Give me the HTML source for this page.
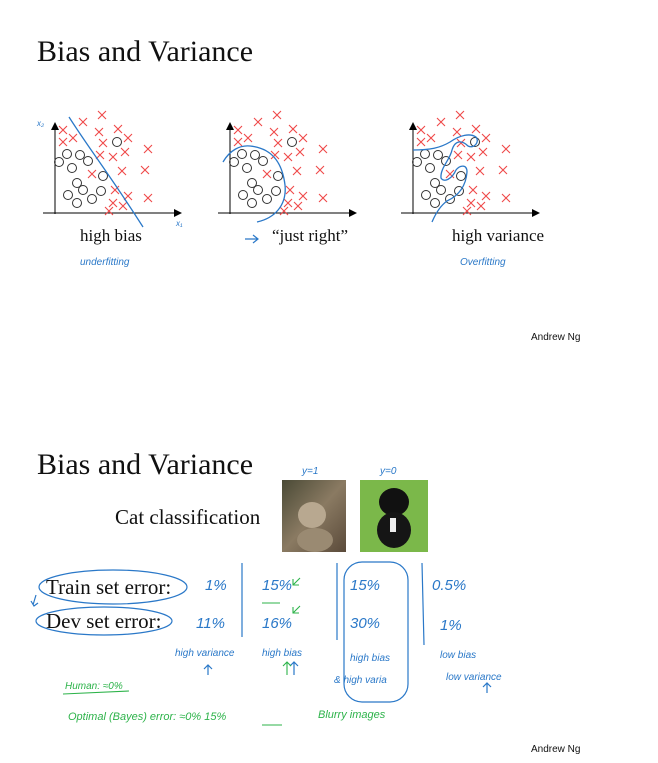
<!DOCTYPE html>
<html><head><meta charset="utf-8">
<style>
html,body{margin:0;padding:0;background:#fff;}
svg{display:block;}
.serif{font-family:"Liberation Serif",serif;fill:#111;}
.hand{font-family:"Liberation Sans",sans-serif;font-style:italic;fill:#2a78c8;}
.handg{font-family:"Liberation Sans",sans-serif;font-style:italic;fill:#2db34a;}
</style></head>
<body>
<svg id="slide" width="658" height="763" viewBox="0 0 658 763" xmlns="http://www.w3.org/2000/svg">
<defs>
<marker id="ar" markerWidth="8" markerHeight="8" refX="6" refY="4" orient="auto"><path d="M0,0 L8,4 L0,8 z" fill="#000"/></marker>
<linearGradient id="catg" x1="0" y1="0" x2="1" y2="1"><stop offset="0" stop-color="#4a4a36"/><stop offset="0.5" stop-color="#8a7a62"/><stop offset="1" stop-color="#5a4a3a"/></linearGradient>
</defs>
<text class="serif" x="37" y="61" font-size="30">Bias and Variance</text>
<g id="panels"></g>
<text class="serif" x="80" y="241" font-size="17">high bias</text>
<text class="serif" x="272" y="241" font-size="17">“just right”</text>
<text class="serif" x="452" y="241" font-size="17">high variance</text>
<path d="M245,239 L258,239 M253,235 L258,239 L253,243" stroke="#2a78c8" fill="none" stroke-width="1.2"/>
<text class="hand" x="80" y="265" font-size="10">underfitting</text>
<text class="hand" x="460" y="265" font-size="10">Overfitting</text>
<text class="hand" x="37" y="126" font-size="8">x₂</text>
<text class="hand" x="176" y="226" font-size="8">x₁</text>
<text x="531" y="340" font-size="10" font-family="Liberation Sans,sans-serif" fill="#111">Andrew Ng</text>

<text class="serif" x="37" y="474" font-size="30">Bias and Variance</text>
<text class="serif" x="115" y="524" font-size="21">Cat classification</text>
<text class="hand" x="302" y="474" font-size="10">y=1</text>
<text class="hand" x="380" y="474" font-size="10">y=0</text>
<g>
<rect x="282" y="480" width="64" height="72" fill="url(#catg)"/>
<ellipse cx="312" cy="515" rx="14" ry="13" fill="#b8a890"/>
<ellipse cx="315" cy="540" rx="18" ry="12" fill="#9a8a72"/>
</g>
<g>
<rect x="360" y="480" width="68" height="72" fill="#7bb84a"/>
<ellipse cx="394" cy="502" rx="15" ry="14" fill="#111"/>
<ellipse cx="394" cy="530" rx="17" ry="18" fill="#151515"/>
<rect x="390" y="518" width="6" height="14" fill="#eee"/>
</g>
<text class="serif" x="46" y="594" font-size="21">Train set error:</text>
<text class="serif" x="46" y="628" font-size="21">Dev set error:</text>
<g fill="none" stroke="#2a78c8" stroke-width="1.2">
<ellipse cx="113" cy="587" rx="74" ry="17"/>
<ellipse cx="104" cy="621" rx="68" ry="14"/>
<path d="M242,563 L242,637 M337,563 L337,640 M422,563 L424,645"/>
<rect x="344" y="562" width="64" height="140" rx="18"/>
<path d="M208,675 L208,665 M204,669 L208,665 L212,669 M294,675 L294,662 M290,666 L294,662 L298,666 M487,693 L487,683 M483,687 L487,683 L491,687 M36,595 L33,605 M31,601 L34,606 L38,603"/>
</g>
<g class="hand" font-size="15">
<text x="205" y="590">1%</text>
<text x="262" y="590">15%</text>
<text x="350" y="590">15%</text>
<text x="432" y="590">0.5%</text>
<text x="196" y="628">11%</text>
<text x="262" y="628">16%</text>
<text x="350" y="628">30%</text>
<text x="440" y="630">1%</text>
</g>
<g class="hand" font-size="10">
<text x="175" y="656">high variance</text>
<text x="262" y="656">high bias</text>
<text x="350" y="661">high bias</text>
<text x="334" y="683">&amp; high varia</text>
<text x="440" y="658">low bias</text>
<text x="446" y="680">low variance</text>
</g>
<g class="handg" font-size="10">
<text x="65" y="689">Human: ≈0%</text>
<text x="68" y="720" font-size="11">Optimal (Bayes) error: ≈0% 15%</text>
<text x="318" y="718" font-size="11">Blurry images</text>
</g>
<path d="M63,694 L129,691 M262,725 L282,725 M262,603 L280,603 M300,578 L293,585 M293,579 L293,585 L299,585 M300,606 L293,613 M293,607 L293,613 L299,613 M287,675 L287,662 M283,666 L287,662 L291,666" stroke="#2db34a" fill="none" stroke-width="1.1"/>
<text x="531" y="752" font-size="10" font-family="Liberation Sans,sans-serif" fill="#111">Andrew Ng</text>
</svg>
<script>
const crossX=[102,83,63,99,118,63,73,103,128,125,113,100,148,145,122,92,115,128,148,113,123,109];
const crossY=[115,122,130,132,129,142,138,143,138,152,157,155,149,170,171,174,190,196,198,203,206,211];
const circX=[117,67,80,88,59,72,103,77,83,101,68,92,77];
const circY=[142,154,155,161,162,168,176,183,190,191,195,199,203];
const panelShift=[0,175,358];
const NS="http://www.w3.org/2000/svg";
const g=document.getElementById('panels');
function mk(t,a){const e=document.createElementNS(NS,t);for(const k in a)e.setAttribute(k,a[k]);return e;}
panelShift.forEach((s,pi)=>{
  const p=mk('g',{});
  
  
  const ya=mk('line',{x1:55+s,y1:214,x2:55+s,y2:124,stroke:'#000','stroke-width':1,'marker-end':'url(#ar)'});
  
  
  p.appendChild(ya);
  const xa=mk('line',{x1:43+s,y1:213,x2:180+s,y2:213,stroke:'#000','stroke-width':1,'marker-end':'url(#ar)'});
  
  
  p.appendChild(xa);
  crossX.forEach((x,i)=>{
    const c=mk('path',{d:`M${x+s-4},${crossY[i]-4}L${x+s+4},${crossY[i]+4}M${x+s+4},${crossY[i]-4}L${x+s-4},${crossY[i]+4}`,stroke:'#f04848','stroke-width':1.1});
    
    
    p.appendChild(c);
  });
  circX.forEach((x,i)=>{
    const c=mk('circle',{cx:x+s,cy:circY[i],r:4.5,fill:'none',stroke:'#333','stroke-width':1});
    
    
    p.appendChild(c);
  });
  g.appendChild(p);
});
const curves=[
 "M69,117 C90,150 110,175 143,227",
 "M223,162 C230,150 240,145 250,146 C270,148 282,160 285,185 C287,205 275,218 257,222",
 "M413,150 C430,150 440,148 450,142 C460,135 470,133 476,137 C480,142 474,149 468,146 C462,140 455,140 452,150 C450,160 440,168 441,178 C444,183 452,179 456,170 C460,165 467,164 467,172 C466,185 460,195 447,201 C440,206 435,215 432,222"
];
curves.forEach((d,i)=>{
  const c=mk('path',{d:d,fill:'none',stroke:'#2a78c8','stroke-width':1.3});
  
  
  g.appendChild(c);
});
</script>
</body></html>
